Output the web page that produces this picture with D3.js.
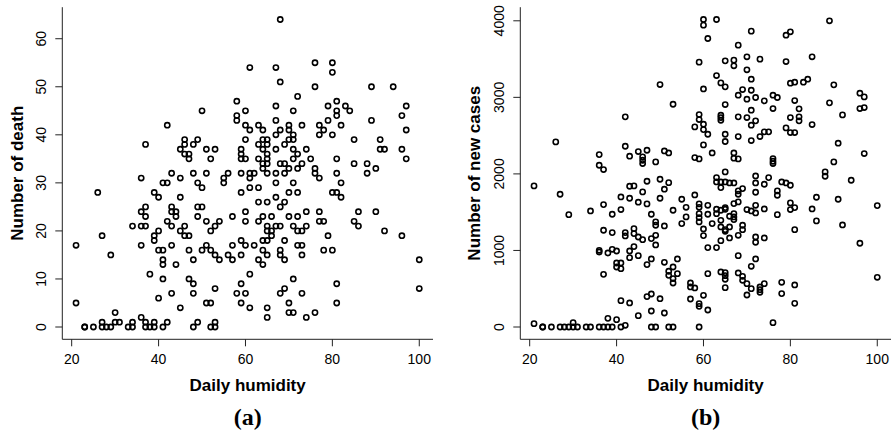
<!DOCTYPE html>
<html>
<head>
<meta charset="utf-8">
<script src="https://cdn.jsdelivr.net/npm/d3@7"></script>
<style>
  body { margin: 0; background: #fff; }
  svg text { font-family: "Liberation Sans", Arial, sans-serif; fill: #000; }
</style>
</head>
<body>
<svg id="chart" width="894" height="435"></svg>
<script>
// deaths per day: [deaths, [humidity values with that count]]
var deathRows = [
  [64, [68]], [55, [76, 80]], [54, [61, 67]], [53, [80]], [51, [68]],
  [50, [76, 89, 94]], [48, [72]], [47, [58, 81]], [46, [67, 79, 83, 97]],
  [45, [50, 60, 71, 81, 84]], [44, [58, 81, 96]], [43, [58, 67, 79, 89]],
  [42, [42, 60, 63, 70, 73, 77, 82]], [41, [61, 64, 68, 70, 78, 97]],
  [40, [67, 71, 77, 80]], [39, [46, 49, 60, 64, 65, 70, 71, 85, 91]],
  [38, [37, 46, 48, 63, 65, 69]], [37, [45, 51, 53, 59, 64, 67, 71, 74, 91, 92, 96]],
  [36, [46, 47, 59, 65, 72]], [35, [47, 52, 59, 60, 63, 65, 71, 75, 81, 97]],
  [34, [64, 65, 68, 69, 73, 85, 88]], [33, [64, 70, 72, 76, 90]],
  [32, [43, 48, 51, 56, 59, 61, 62, 65, 67, 69, 76, 81, 88]],
  [31, [36, 45, 55, 61, 77]], [30, [41, 42, 49, 55, 67, 71, 82]], [29, [50, 61, 63]],
  [28, [26, 39, 59, 70, 72, 80, 81]], [27, [40, 45, 67, 82]], [26, [63, 65, 69]],
  [25, [37, 43, 49, 50, 68]], [24, [36, 43, 44, 60, 74, 77, 86, 90]],
  [23, [37, 44, 49, 57, 64, 66, 70, 72]], [22, [42, 51, 54, 60, 63, 77, 78, 85]],
  [21, [34, 36, 37, 43, 46, 53, 65, 67, 68, 71, 74, 86]],
  [20, [40, 45, 52, 65, 66, 72, 73, 92]], [19, [27, 39, 46, 47, 66, 79, 96]],
  [18, [39, 59, 64, 65, 69]], [17, [21, 36, 43, 51, 57, 60, 62, 72, 73]],
  [16, [40, 41, 47, 50, 52, 64, 68, 78, 80]], [15, [29, 53, 56, 59, 65, 68, 73]],
  [14, [41, 48, 54, 57, 63, 69, 100]], [13, [41, 44, 64]], [11, [38, 61]],
  [10, [41, 47, 71]], [9, [48, 59, 81]], [8, [53, 69, 100]],
  [7, [43, 48, 58, 60, 68, 73]], [6, [40]], [5, [21, 51, 52, 59, 70, 81]],
  [4, [45, 61, 65]], [3, [30, 70, 71, 76]], [2, [36, 65, 74]],
  [1, [27, 30, 31, 34, 37, 39, 42, 49, 53]],
  [0, [23, 23, 25, 27, 28, 29, 33, 34, 37, 38, 39, 41, 48, 52, 53]]
];

// new cases per day: [humidity, cases]
var casePoints = [
  [60,4017],[60,3943],[63,4017],[89,4000],[71,3865],[61,3769],[80,3856],[79,3812],[68,3682],
  [59,3460],[65,3477],[67,3486],[67,3412],[70,3530],[73,3499],[85,3530],[79,3468],[70,3360],
  [63,3285],[71,3237],[64,3189],[65,3137],[50,3167],[80,3185],[81,3198],[83,3198],[84,3237],
  [90,3163],[60,3110],[69,3102],[71,3093],[68,3028],[70,2976],[72,2998],[74,2954],[76,3028],
  [77,2998],[81,2958],[96,3054],[97,3006],[53,2910],[65,2906],[89,2928],[71,2832],[76,2854],
  [82,2850],[96,2854],[97,2867],[42,2745],[59,2775],[59,2710],[64,2767],[64,2736],[64,2701],
  [68,2745],[70,2736],[72,2693],[80,2736],[82,2745],[82,2693],[92,2771],[58,2614],[60,2649],
  [60,2579],[71,2636],[79,2601],[80,2540],[81,2540],[85,2645],[61,2518],[65,2518],[68,2488],
  [73,2488],[74,2549],[75,2549],[65,2423],[71,2436],[26,2418],[42,2361],[60,2379],[91,2401],
  [45,2292],[47,2309],[62,2274],[67,2274],[52,2274],[51,2300],[97,2266],[36,2252],[43,2231],
  [46,2222],[46,2178],[46,2135],[49,2157],[58,2213],[59,2196],[67,2205],[68,2196],[76,2200],
  [76,2165],[76,2135],[36,2113],[37,2057],[90,2157],[65,2026],[88,2026],[88,1969],[72,1973],
  [63,1952],[63,1895],[75,1952],[50,1930],[52,1886],[47,1904],[64,1821],[64,1895],[65,1895],
  [66,1882],[67,1882],[72,1882],[74,1865],[78,1895],[79,1882],[80,1852],[94,1917],[43,1839],
  [44,1843],[21,1843],[69,1808],[68,1778],[68,1734],[51,1800],[46,1765],[72,1760],[77,1778],
  [77,1721],[27,1734],[58,1725],[41,1699],[43,1682],[50,1682],[86,1695],[55,1669],[91,1669],
  [45,1630],[47,1608],[37,1599],[59,1608],[59,1564],[61,1590],[67,1612],[68,1634],[72,1590],
  [80,1621],[80,1534],[81,1560],[100,1586],[56,1564],[65,1560],[65,1538],[63,1538],[29,1468],
  [34,1516],[39,1473],[41,1534],[48,1473],[53,1525],[59,1481],[59,1429],[61,1473],[63,1481],
  [64,1525],[66,1447],[67,1481],[67,1438],[67,1403],[70,1534],[71,1516],[72,1490],[74,1542],
  [77,1468],[85,1542],[56,1438],[55,1351],[59,1373],[62,1351],[64,1394],[64,1307],[65,1272],
  [65,1250],[66,1307],[69,1329],[69,1272],[86,1386],[92,1333],[49,1373],[49,1329],[51,1320],
  [60,1281],[37,1264],[39,1233],[81,1272],[44,1285],[44,1220],[42,1233],[42,1190],[48,1155],
  [49,1198],[45,1176],[46,1141],[60,1194],[66,1163],[68,1198],[72,1176],[72,1107],[74,1163],
  [64,1128],[49,1072],[44,1050],[61,1037],[63,1037],[96,1094],[36,1002],[36,980],[39,1015],
  [40,993],[38,967],[43,993],[45,932],[43,906],[68,932],[48,889],[54,889],[72,889],[40,836],
  [40,784],[41,836],[41,762],[51,845],[47,815],[53,784],[71,793],[52,728],[52,675],[37,688],
  [54,697],[53,632],[53,575],[61,697],[64,719],[65,710],[65,671],[65,623],[68,706],[69,662],
  [69,610],[70,566],[57,575],[57,523],[58,510],[65,514],[71,501],[73,523],[73,488],[73,453],
  [74,566],[78,584],[78,436],[81,549],[70,418],[60,414],[47,397],[48,431],[50,370],[57,366],
  [41,344],[43,314],[59,305],[59,270],[61,222],[81,309],[48,209],[51,183],[45,148],[38,113],
  [40,96],[76,57],[21,44],[30,57],[42,22],[100,649],
  [23,0],[23,0],[25,0],[27,0],[28,0],[29,0],[30,0],[31,0],[33,0],[34,0],[36,0],[37,0],
  [38,0],[39,0],[41,0],[48,0],[49,0],[52,0],[53,0],[59,0]
];

var xTicks = [20, 40, 60, 80, 100];
var deathTicks = [0, 10, 20, 30, 40, 50, 60];
var caseTicks = [0, 1000, 2000, 3000, 4000];

var deathPoints = [];
deathRows.forEach(function(r) {
  r[1].forEach(function(h) { deathPoints.push([h, r[0]]); });
});

var svg = d3.select("#chart");

// R style 4% padding on the data range
function padded(ext) {
  var d = (ext[1] - ext[0]) * 0.04;
  return [ext[0] - d, ext[1] + d];
}

function panel(opts) {
  var g = svg.append("g");
  var x = d3.scaleLinear()
    .domain(padded(d3.extent(opts.data, function(d) { return d[0]; })))
    .range([opts.left, opts.right]);
  var y = d3.scaleLinear()
    .domain(padded(d3.extent(opts.data, function(d) { return d[1]; })))
    .range([opts.bottom, opts.top]);

  // L shaped box
  g.append("path")
    .attr("d", "M" + opts.left + "," + opts.top + "V" + opts.bottom + "H" + opts.right)
    .attr("fill", "none").attr("stroke", "#222").attr("stroke-width", 1);

  // x ticks
  g.selectAll(".xt").data(xTicks).enter().append("line")
    .attr("x1", function(d) { return x(d); }).attr("x2", function(d) { return x(d); })
    .attr("y1", opts.bottom).attr("y2", opts.bottom + 7)
    .attr("stroke", "#222");
  g.selectAll(".xl").data(xTicks).enter().append("text")
    .attr("x", function(d) { return x(d); })
    .attr("y", opts.bottom + 20).attr("dy", "0.35em")
    .attr("text-anchor", "middle").style("font-size", "14px")
    .text(function(d) { return d; });

  // y ticks
  g.selectAll(".yt").data(opts.yTicks).enter().append("line")
    .attr("x1", opts.left - 7).attr("x2", opts.left)
    .attr("y1", function(d) { return y(d); }).attr("y2", function(d) { return y(d); })
    .attr("stroke", "#222");
  g.selectAll(".yl").data(opts.yTicks).enter().append("text")
    .attr("transform", function(d) { return "translate(" + (opts.left - 21) + "," + y(d) + ") rotate(-90)"; })
    .attr("dy", "0.35em")
    .attr("text-anchor", "middle").style("font-size", "14px")
    .text(function(d) { return d; });

  // points
  g.selectAll("circle").data(opts.data).enter().append("circle")
    .attr("cx", function(d) { return x(d[0]); })
    .attr("cy", function(d) { return y(d[1]); })
    .attr("r", 2.6)
    .attr("fill", "none").attr("stroke", "#000").attr("stroke-width", 1.6);

  var cx = (opts.left + opts.right) / 2;
  g.append("text")
    .attr("x", cx).attr("y", 390.5)
    .attr("text-anchor", "middle")
    .style("font-size", "17px").style("font-weight", "bold")
    .text("Daily humidity");

  g.append("text")
    .attr("transform", "translate(" + opts.titleX + "," + ((opts.top + opts.bottom) / 2) + ") rotate(-90)")
    .attr("dy", "0.35em")
    .attr("text-anchor", "middle")
    .style("font-size", "17px").style("font-weight", "bold")
    .text(opts.yTitle);

  g.append("text")
    .attr("x", cx).attr("y", 425)
    .attr("text-anchor", "middle")
    .style("font-family", "'Liberation Serif', 'Times New Roman', serif")
    .style("font-size", "24px").style("font-weight", "bold")
    .text(opts.tag);
}

panel({
  data: deathPoints, yTicks: deathTicks,
  left: 62.3, right: 433, top: 7.2, bottom: 339.3,
  titleX: 16.7, yTitle: "Number of death", tag: "(a)"
});

panel({
  data: casePoints, yTicks: caseTicks,
  left: 520.3, right: 891, top: 7.2, bottom: 339.3,
  titleX: 473.7, yTitle: "Number of new cases", tag: "(b)"
});
</script>
</body>
</html>
